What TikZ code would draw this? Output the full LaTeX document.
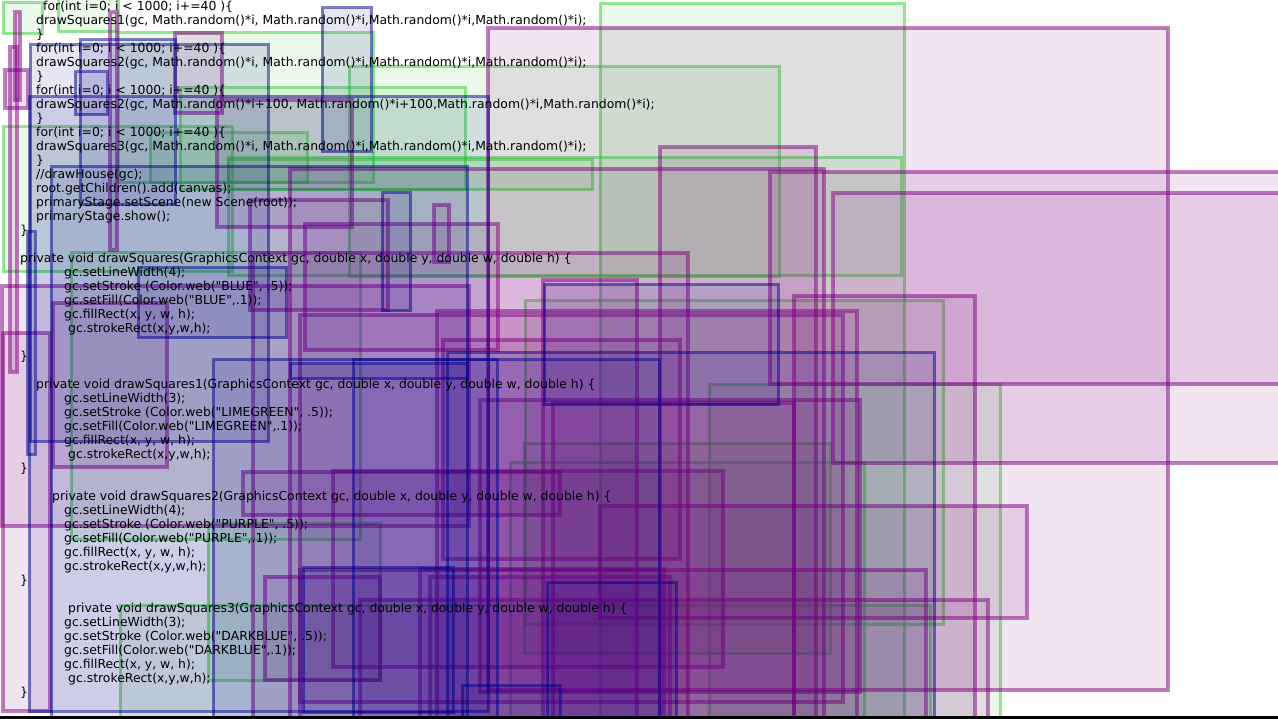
\documentclass[tikz,border=0pt]{standalone}
\usepackage{fontspec}
\newfontfamily\codefont{DejaVu Sans}
\definecolor{lg}{RGB}{50,205,50}
\definecolor{pp}{RGB}{128,0,128}
\definecolor{dbl}{RGB}{0,0,139}
\tikzset{
  gr/.style={draw=lg, draw opacity=.5, fill=lg, fill opacity=.1, line width=3},
  pu/.style={draw=pp, draw opacity=.5, fill=pp, fill opacity=.1, line width=4},
  db/.style={draw=dbl, draw opacity=.5, fill=dbl, fill opacity=.1, line width=3},
  code/.style={anchor=base west, inner sep=0, font=\codefont\fontsize{12.4}{14}\selectfont, text=black}
}
\newcommand\myrect[5]{\path[#1] (#2,#3) rectangle (#4,#5);}
\begin{document}
\begin{tikzpicture}[x=1pt,y=-1pt]
\useasboundingbox (0,0) rectangle (1278,719);
\fill[white] (0,0) rectangle (1278,719);
\begin{scope}
\clip (0,0) rectangle (1278,716);
% greens
\myrect{gr}{3}{3}{42}{34}
\myrect{gr}{58}{-2}{118}{32}
\myrect{gr}{600}{4}{904}{760}
\myrect{gr}{349}{67}{779}{277}
\myrect{gr}{118}{33}{373}{183}
\myrect{gr}{180}{88}{465}{190}
\myrect{gr}{150}{133}{307}{183}
\myrect{gr}{228}{160}{592}{190}
\myrect{gr}{3}{127}{232}{272}
\myrect{gr}{228}{158}{901}{276}
\myrect{gr}{71}{253}{360}{539}
\myrect{gr}{525}{301}{943}{624}
\myrect{gr}{709}{385}{1000}{760}
\myrect{gr}{524}{443}{830}{653}
\myrect{gr}{510}{462}{864}{760}
\myrect{gr}{208}{523}{380}{680}
\myrect{gr}{120}{605}{930}{760}
% purples
\myrect{pu}{10}{47}{17}{372}
\myrect{pu}{15}{12}{20}{100}
\myrect{pu}{5}{70}{28}{108}
\myrect{pu}{110}{12}{117}{250}
\myrect{pu}{175}{33}{222}{113}
\myrect{pu}{488}{28}{1168}{690}
\myrect{pu}{770}{172}{1290}{384}
\myrect{pu}{833}{193}{1290}{463}
\myrect{pu}{660}{147}{816}{760}
\myrect{pu}{290}{169}{824}{760}
\myrect{pu}{217}{100}{352}{227}
\myrect{pu}{250}{200}{388}{310}
\myrect{pu}{434}{205}{449}{262}
\myrect{pu}{305}{224}{498}{350}
\myrect{pu}{253}{253}{688}{760}
\myrect{pu}{543}{280}{637}{760}
\myrect{pu}{2}{286}{469}{526}
\myrect{pu}{794}{296}{975}{760}
\myrect{pu}{53}{303}{167}{467}
\myrect{pu}{437}{311}{857}{760}
\myrect{pu}{300}{315}{843}{702}
\myrect{pu}{3}{333}{50}{711}
\myrect{pu}{443}{340}{680}{559}
\myrect{pu}{553}{403}{794}{760}
\myrect{pu}{480}{400}{860}{692}
\myrect{pu}{333}{471}{723}{667}
\myrect{pu}{243}{472}{560}{515}
\myrect{pu}{600}{506}{1027}{618}
\myrect{pu}{420}{569}{664}{760}
\myrect{pu}{430}{577}{670}{760}
\myrect{pu}{265}{577}{380}{680}
\myrect{pu}{360}{600}{988}{760}
\myrect{pu}{300}{570}{926}{760}
% dark blues
\myrect{db}{322}{8}{371}{152}
\myrect{db}{30}{45}{268}{441}
\myrect{db}{80}{40}{175}{205}
\myrect{db}{75}{72}{107}{115}
\myrect{db}{29}{97}{488}{711}
\myrect{db}{27}{232}{35}{454}
\myrect{db}{51}{167}{467}{760}
\myrect{db}{382}{193}{410}{311}
\myrect{db}{138}{268}{286}{338}
\myrect{db}{544}{285}{778}{405}
\myrect{db}{447}{353}{934}{760}
\myrect{db}{353}{360}{659}{760}
\myrect{db}{213}{360}{497}{760}
\myrect{db}{290}{364}{467}{379}
\myrect{db}{303}{567}{453}{712}
\myrect{db}{547}{582}{676}{760}
\myrect{db}{462}{685}{560}{760}
\end{scope}
\fill[black] (0,716) rectangle (1278,719);
% code text
\node[code] (t0) at (43,10.5) {for(int i=0; i < 1000; i+=40 )\{};
\node[code] (t1) at (36,24.5) {drawSquares1(gc, Math.random()*i, Math.random()*i,Math.random()*i,Math.random()*i);};
\node[code] (t2) at (36,38.5) {\}};
\node[code] (t3) at (36,52.5) {for(int i=0; i < 1000; i+=40 )\{};
\node[code] (t4) at (36,66.5) {drawSquares2(gc, Math.random()*i, Math.random()*i,Math.random()*i,Math.random()*i);};
\node[code] (t5) at (36,80.5) {\}};
\node[code] (t6) at (36,94.5) {for(int i=0; i < 1000; i+=40 )\{};
\node[code] (t7) at (36,108.5) {drawSquares2(gc, Math.random()*i+100, Math.random()*i+100,Math.random()*i,Math.random()*i);};
\node[code] (t8) at (36,122.5) {\}};
\node[code] (t9) at (36,136.5) {for(int i=0; i < 1000; i+=40 )\{};
\node[code] (t10) at (36,150.5) {drawSquares3(gc, Math.random()*i, Math.random()*i,Math.random()*i,Math.random()*i);};
\node[code] (t11) at (36,164.5) {\}};
\node[code] (t12) at (36,178.5) {//drawHouse(gc);};
\node[code] (t13) at (36,192.5) {root.getChildren().add(canvas);};
\node[code] (t14) at (36,206.5) {primaryStage.setScene(new Scene(root));};
\node[code] (t15) at (36,220.5) {primaryStage.show();};
\node[code] (t16) at (20,234.5) {\}};
\node[code] (t18) at (20,262.5) {private void drawSquares(GraphicsContext gc, double x, double y, double w, double h) \{};
\node[code] (t19) at (64,276.5) {gc.setLineWidth(4);};
\node[code] (t20) at (64,290.5) {gc.setStroke (Color.web("BLUE", .5));};
\node[code] (t21) at (64,304.5) {gc.setFill(Color.web("BLUE",.1));};
\node[code] (t22) at (64,318.5) {gc.fillRect(x, y, w, h);};
\node[code] (t23) at (68,332.5) {gc.strokeRect(x,y,w,h);};
\node[code] (t25) at (20,360.5) {\}};
\node[code] (t27) at (36,388.5) {private void drawSquares1(GraphicsContext gc, double x, double y, double w, double h) \{};
\node[code] (t28) at (64,402.5) {gc.setLineWidth(3);};
\node[code] (t29) at (64,416.5) {gc.setStroke (Color.web("LIMEGREEN", .5));};
\node[code] (t30) at (64,430.5) {gc.setFill(Color.web("LIMEGREEN",.1));};
\node[code] (t31) at (64,444.5) {gc.fillRect(x, y, w, h);};
\node[code] (t32) at (68,458.5) {gc.strokeRect(x,y,w,h);};
\node[code] (t33) at (20,472.5) {\}};
\node[code] (t35) at (52,500.5) {private void drawSquares2(GraphicsContext gc, double x, double y, double w, double h) \{};
\node[code] (t36) at (64,514.5) {gc.setLineWidth(4);};
\node[code] (t37) at (64,528.5) {gc.setStroke (Color.web("PURPLE", .5));};
\node[code] (t38) at (64,542.5) {gc.setFill(Color.web("PURPLE",.1));};
\node[code] (t39) at (64,556.5) {gc.fillRect(x, y, w, h);};
\node[code] (t40) at (64,570.5) {gc.strokeRect(x,y,w,h);};
\node[code] (t41) at (20,584.5) {\}};
\node[code] (t43) at (68,612.5) {private void drawSquares3(GraphicsContext gc, double x, double y, double w, double h) \{};
\node[code] (t44) at (64,626.5) {gc.setLineWidth(3);};
\node[code] (t45) at (64,640.5) {gc.setStroke (Color.web("DARKBLUE", .5));};
\node[code] (t46) at (64,654.5) {gc.setFill(Color.web("DARKBLUE",.1));};
\node[code] (t47) at (64,668.5) {gc.fillRect(x, y, w, h);};
\node[code] (t48) at (68,682.5) {gc.strokeRect(x,y,w,h);};
\node[code] (t49) at (20,696.5) {\}};
\end{tikzpicture}
\end{document}
